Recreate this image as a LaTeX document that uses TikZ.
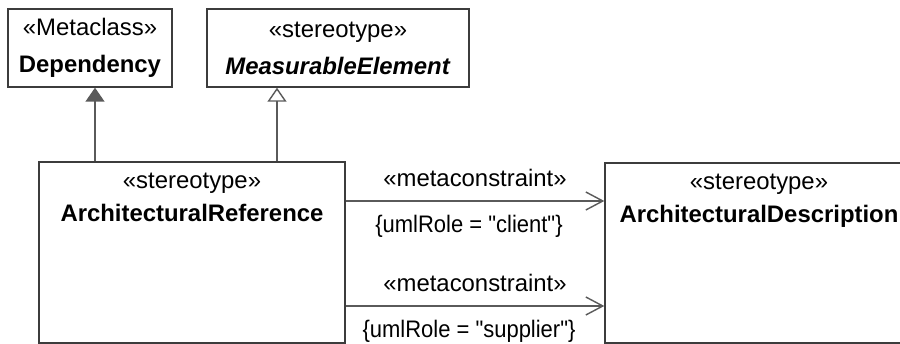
\documentclass[tikz,border=0pt]{standalone}
\usepackage{fontspec}
\setmainfont{Liberation Sans}
\newfontfamily\umlfamily{Liberation Sans}
\newfontfamily\rolefamily{Liberation Sans}[FakeStretch=0.92]
\usepackage{xcolor}
\usepackage{tikz}
\usetikzlibrary{arrows.meta, positioning}
\definecolor{umlline}{HTML}{3C3C3C}
\definecolor{umledge}{HTML}{5A5A5A}
\tikzset{
  umlfont/.style={font=\umlfamily\fontsize{13.6}{21}\selectfont},
  clsbox/.style={draw=umlline,line width=0.8pt,umlfont,align=center,inner sep=0pt},
  toptxt/.style={umlfont,align=center,inner sep=0pt},
  roletxt/.style={umlfont,inner sep=0pt,text=black},
  constxt/.style={roletxt,font=\rolefamily\fontsize{13.6}{21}\selectfont},
  genfilled/.style={-{Triangle[length=0.28cm,width=0.38cm,fill=umledge]},line width=0.8pt,umledge},
  genopen/.style={-{Triangle[open,length=0.28cm,width=0.38cm,fill=white]},line width=0.8pt,umledge},
  mcedge/.style={-{Straight Barb[length=0.34cm,width=0.36cm]},line width=0.8pt,umledge},
}

\begin{document}
\begin{tikzpicture}[x=0.02cm,y=-0.02cm]
  \clip (0,0) rectangle (900,344);
  % ---- metaclass and parent stereotype ----
  \node[clsbox,minimum width=3.28cm,minimum height=1.56cm] (dep) at (90,48)
    {«Metaclass»\\\textbf{Dependency}};
  \node[clsbox,minimum width=5.24cm,minimum height=1.56cm] (meas) at (338,48)
    {«stereotype»\\\textbf{\textit{MeasurableElement}}};
  % ---- the two stereotypes below ----
  \node[clsbox,minimum width=6.12cm,minimum height=3.62cm] (ref) at (192,252.5) {};
  \node[toptxt,below=0.22cm of ref.north] (refT)
    {«stereotype»\\[-2pt]\textbf{ArchitecturalReference}};
  \node[clsbox,minimum width=6.16cm,minimum height=3.6cm] (desc) at (759,253) {};
  \node[toptxt,below=0.22cm of desc.north] (descT)
    {«stereotype»\\[-2pt]\textbf{ArchitecturalDescription}};
  % generalisations
  \coordinate (gdep) at (95,0);
  \coordinate (gmeas) at (277,0);
  \draw[genfilled] (ref.north -| gdep) -- (dep.south -| gdep);
  \draw[genopen] (ref.north -| gmeas) -- (meas.south -| gmeas);
  % metaconstraints
  \coordinate (mc1) at (0,201);
  \coordinate (mc2) at (0,306);
  \draw[mcedge] (ref.east |- mc1) -- (desc.west |- mc1)
    node[roletxt,pos=.5,above=0.28cm] (mc1a) {«metaconstraint»}
    node[constxt,pos=.5,below=0.26cm,xshift=-0.12cm] (mc1b) {\{umlRole = "client"\}};
  \draw[mcedge] (ref.east |- mc2) -- (desc.west |- mc2)
    node[roletxt,pos=.5,above=0.28cm] (mc2a) {«metaconstraint»}
    node[constxt,pos=.5,below=0.26cm,xshift=-0.12cm] (mc2b) {\{umlRole = "supplier"\}};
\end{tikzpicture}
\end{document}
